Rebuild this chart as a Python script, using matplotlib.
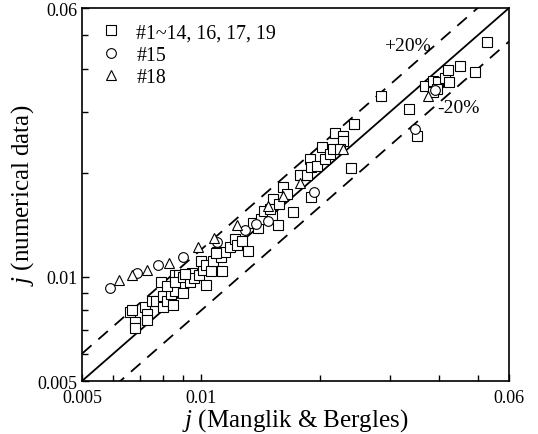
import numpy as np
import matplotlib
matplotlib.use('Agg')
import matplotlib.pyplot as plt
from matplotlib.ticker import FixedLocator, NullFormatter, FixedFormatter

plt.rcParams['font.family'] = ['Liberation Serif', 'DejaVu Serif']
plt.rcParams['mathtext.fontset'] = 'custom'
plt.rcParams['mathtext.rm'] = 'Liberation Serif'
plt.rcParams['mathtext.it'] = 'Liberation Serif:italic'

# #1~14, 16, 17, 19
sq_x = [0.0066, 0.0067, 0.0068, 0.0068, 0.0072, 0.0073, 0.0073, 0.0075, 0.0077, 0.0080,
        0.0080, 0.0082, 0.0085, 0.0084, 0.0086, 0.0090, 0.0079, 0.0082, 0.0086, 0.0088,
        0.0086, 0.0090, 0.0094, 0.0095, 0.0096, 0.0099, 0.0101, 0.0103, 0.0100, 0.0103,
        0.0106, 0.0107, 0.0110, 0.0112, 0.0113, 0.0115, 0.0118, 0.0122, 0.0123, 0.0127,
        0.0131, 0.0135, 0.0139, 0.0142, 0.0144, 0.0151, 0.0152, 0.0156, 0.0149, 0.0161,
        0.0165, 0.0171, 0.0178, 0.0157, 0.0185, 0.0188, 0.0190, 0.0196, 0.0190, 0.0202,
        0.0206, 0.0212, 0.0215, 0.0218, 0.0228, 0.0228, 0.0239, 0.0243, 0.0285, 0.0335,
        0.0351, 0.0368, 0.0386, 0.0397, 0.0413, 0.0423, 0.0395, 0.0386, 0.0421, 0.0451,
        0.0492, 0.0527, 0.0091, 0.0109, 0.0224]
sq_y = [0.0079, 0.0080, 0.0074, 0.0071, 0.0082, 0.0078, 0.0075, 0.0085, 0.0085, 0.0088,
        0.0082, 0.0085, 0.0083, 0.0089, 0.0091, 0.0090, 0.0097, 0.0094, 0.0101, 0.0101,
        0.0097, 0.0100, 0.0097, 0.0103, 0.0099, 0.0101, 0.0105, 0.0095, 0.0111, 0.0108,
        0.0104, 0.0111, 0.0118, 0.0114, 0.0104, 0.0118, 0.0122, 0.0129, 0.0124, 0.0127,
        0.0119, 0.0143, 0.0139, 0.0147, 0.0155, 0.0150, 0.0168, 0.0141, 0.0157, 0.0182,
        0.0174, 0.0154, 0.0197, 0.0163, 0.0197, 0.0219, 0.0208, 0.0209, 0.0170, 0.0238,
        0.0219, 0.0227, 0.0235, 0.0261, 0.0256, 0.0247, 0.0207, 0.0277, 0.0334, 0.0306,
        0.0256, 0.0357, 0.0369, 0.0366, 0.0376, 0.0366, 0.0350, 0.0343, 0.0397, 0.0408,
        0.0392, 0.0478, 0.0102, 0.0117, 0.0235]

# #15
ci_x = [0.0059, 0.0069, 0.0078, 0.0090, 0.0110, 0.0129, 0.0138, 0.0148, 0.0193, 0.0347, 0.0390]
ci_y = [0.0093, 0.0103, 0.0108, 0.0114, 0.0126, 0.0137, 0.0142, 0.0145, 0.0176, 0.0268, 0.0347]

# #18
tr_x = [0.0062, 0.0067, 0.0073, 0.0083, 0.0098, 0.0108, 0.0123, 0.0148, 0.0161, 0.0178, 0.0228, 0.0374]
tr_y = [0.0098, 0.0101, 0.0105, 0.0110, 0.0122, 0.0130, 0.0141, 0.0160, 0.0172, 0.0187, 0.0235, 0.0334]

lim = np.array([0.005, 0.06])

fig = plt.figure(figsize=(5.38, 4.35), dpi=100)
ax = fig.add_axes([82/538, 53/435, 427/538, 373/435])

ax.plot(lim, lim, color='black', lw=1.3)
ax.plot(lim, lim * 1.2, color='black', lw=1.3, dashes=(7, 5))
ax.plot(lim, lim * 0.8, color='black', lw=1.3, dashes=(7, 5))

mk = dict(mfc='white', mec='black', mew=0.8, ls='none')
ax.plot(sq_x, sq_y, marker='s', ms=6.5, label='#1~14, 16, 17, 19', **mk)
ax.plot(ci_x, ci_y, marker='o', ms=7, label='#15', **mk)
ax.plot(tr_x, tr_y, marker='^', ms=7.5, label='#18', **mk)

ax.set_xscale('log')
ax.set_yscale('log')
ax.set_xlim(lim)
ax.set_ylim(lim)

major = [0.005, 0.01, 0.06]
labels = ['0.005', '0.01', '0.06']
minor = [0.006, 0.007, 0.008, 0.009, 0.02, 0.03, 0.04, 0.05]
for axis in (ax.xaxis, ax.yaxis):
    axis.set_major_locator(FixedLocator(major))
    axis.set_major_formatter(FixedFormatter(labels))
    axis.set_minor_locator(FixedLocator(minor))
    axis.set_minor_formatter(NullFormatter())

ax.tick_params(which='both', direction='in', labelsize=13, width=1)
ax.tick_params(which='major', length=5)
ax.tick_params(which='minor', length=4)
ax.tick_params(axis='x', pad=6)
ax.tick_params(axis='y', pad=3)
for s in ax.spines.values():
    s.set_linewidth(1.2)

ax.set_xlabel('$j$ (Manglik & Bergles)', fontsize=18, labelpad=0)
ax.set_ylabel('$j$ (numerical data)', fontsize=18, labelpad=1)

ax.text(0.0333, 0.0466, '+20%', fontsize=14, ha='center', va='center')
ax.text(0.0446, 0.0310, '-20%', fontsize=14, ha='center', va='center')

ax.legend(loc='upper left', frameon=False, fontsize=14.3, handletextpad=0.3,
          borderaxespad=0.0, labelspacing=0.17, bbox_to_anchor=(0.002, 0.98))

fig.savefig('out.png', dpi=100)
